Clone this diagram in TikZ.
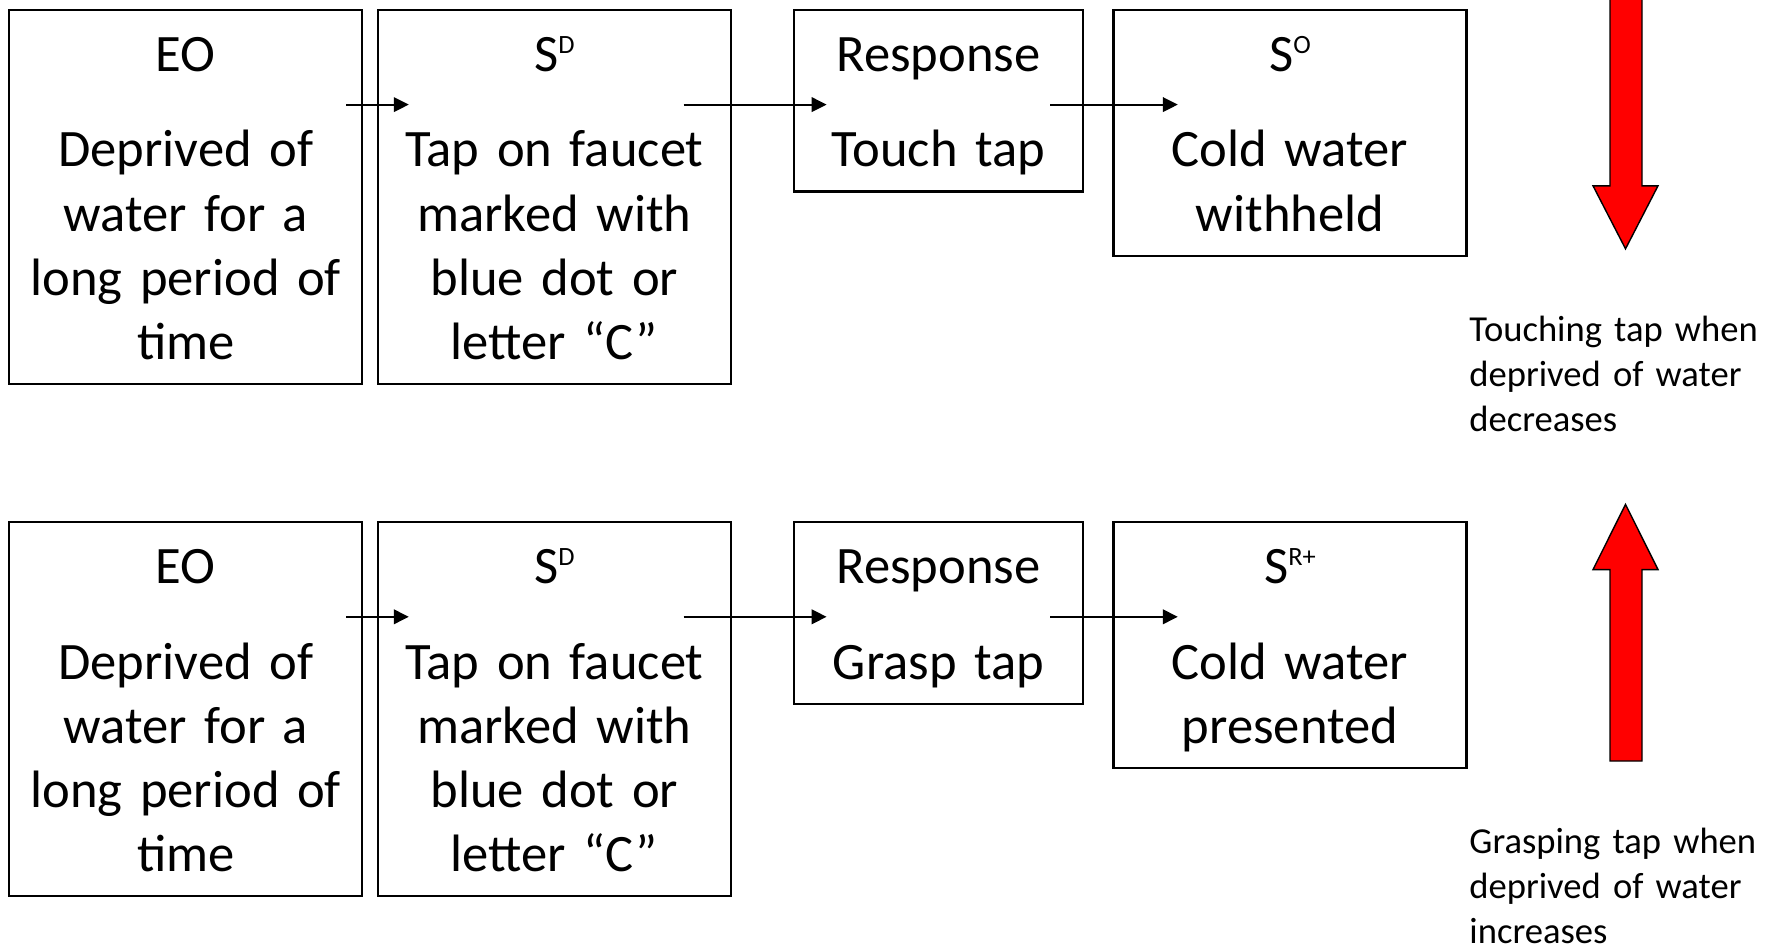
\documentclass[tikz,border=0pt]{standalone}
\usepackage{fontspec}
\setmainfont{Carlito}
\usetikzlibrary{calc, arrows.meta}
\newcommand{\boxfont}{\fontsize{26.3pt}{32.1pt}\selectfont}
\newcommand{\notefont}{\fontsize{18.3pt}{22.5pt}\selectfont}
\newcommand{\topstrut}{\rule{0pt}{27.8pt}}
\newcommand{\supscr}[1]{\raisebox{9pt}{\fontsize{13.2pt}{13.2pt}\selectfont #1}}

\begin{document}
\begin{tikzpicture}[x=1pt, y=1pt,
    box/.style={draw, line width=1.1pt, align=center, font=\boxfont, inner xsep=4pt, inner ysep=2.7pt, text width=168.5pt, anchor=north},
    flow/.style={-{Triangle[length=7.5pt,width=7.3pt]}, line width=1pt},
    bigarrow/.style={fill=red, draw=black, line width=0.7pt},
    note/.style={font=\notefont, align=left, text width=146pt, inner sep=0pt, anchor=base west}]
    \useasboundingbox (0,0) rectangle (882.5,-473.5);
    % upper row: touching the tap
    \node[box] (eo1) at (92.9,-4.5) {\topstrut EO\\[15.8pt]Deprived of\\water for a\\long period of\\time\strut};
    \node[box] (sd1) at (277.2,-4.5) {\topstrut S\supscr{D}\\[15.8pt]Tap on faucet\\marked with\\blue dot or\\letter “C”\strut};
    \node[box, text width=136.5pt] (rs1) at (469.2,-4.5) {\topstrut Response\\[15.8pt]Touch tap\strut};
    \node[box] (so1) at (645,-4.5) {\topstrut S\supscr{O}\\[15.8pt]Cold water\\withheld\strut};
    % lower row: grasping the tap
    \node[box] (eo2) at (92.9,-260.6) {\topstrut EO\\[15.8pt]Deprived of\\water for a\\long period of\\time\strut};
    \node[box] (sd2) at (277.2,-260.6) {\topstrut S\supscr{D}\\[15.8pt]Tap on faucet\\marked with\\blue dot or\\letter “C”\strut};
    \node[box, text width=136.5pt] (rs2) at (469.2,-260.6) {\topstrut Response\\[15.8pt]Grasp tap\strut};
    \node[box] (sr2) at (645,-260.6) {\topstrut S\supscr{R+}\\[15.8pt]Cold water\\presented\strut};
    % contingency arrows
    \foreach \a/\b/\s/\e in {eo1/sd1/8.5/16, sd1/rs1/24.2/16.9, rs1/so1/16.9/32.7,
                            eo2/sd2/8.5/16, sd2/rs2/24.2/16.9, rs2/sr2/16.9/32.7} {
        \draw[flow] ($(\a.north east)+(-\s,-47.8)$) -- ($(\b.north west)+(\e,-47.8)$);
    }
    % effect on behaviour
    \filldraw[bigarrow] (805,3) -- (805,-92.9) -- (796.5,-92.9) -- (812.75,-124.4)
        -- (829,-92.9) -- (821,-92.9) -- (821,3) -- cycle;
    \filldraw[bigarrow] (805,-380.5) -- (805,-284.8) -- (796.5,-284.8) -- (812.75,-252.2)
        -- (829,-284.8) -- (821,-284.8) -- (821,-380.5) -- cycle;
    \node[note] (dec) at (734.5,-170.5) {Touching tap when\\deprived of water\\decreases};
    \node[note] (inc) at (734.5,-426.6) {Grasping tap when\\deprived of water\\increases};
\end{tikzpicture}
\end{document}
